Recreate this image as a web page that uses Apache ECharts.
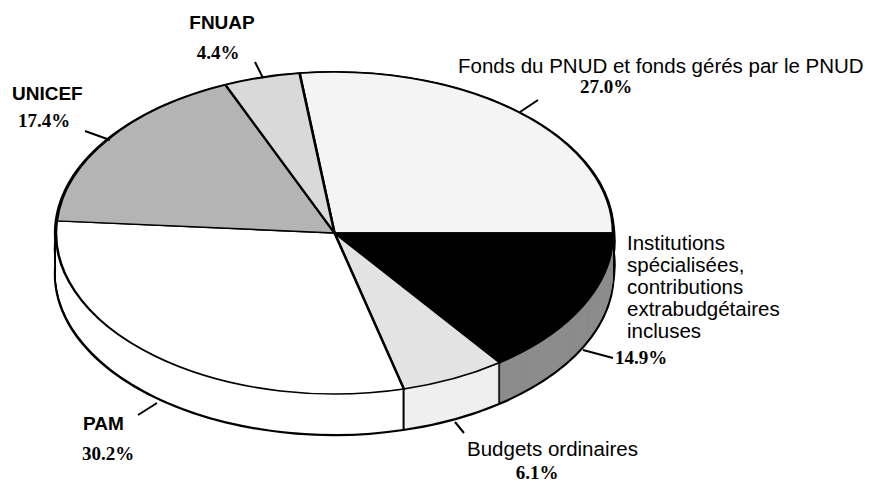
<!DOCTYPE html>
<html>
<head>
<meta charset="utf-8">
<script src="https://cdn.jsdelivr.net/npm/echarts@6/dist/echarts.min.js"></script>
<style>
  html, body { margin: 0; padding: 0; background: #fff; }
  #stage { position: relative; width: 871px; height: 482px; overflow: hidden; }
  /* the pie is drawn round, then squashed into the tilted ellipse */
  #pie { position: absolute; left: 0; top: 0; width: 871px; height: 820px;
         transform: scaleY(0.578); transform-origin: 0 0; }
  #labels { position: absolute; left: 0; top: 0; width: 871px; height: 482px; }
</style>
</head>
<body>
<div id="stage">
  <div id="pie"></div>
  <div id="labels"></div>
</div>
<script>
// data, clockwise from the top-left edge of the UNDP slice
const categories = [
  'Fonds du PNUD et fonds gérés par le PNUD',
  'Institutions\nspécialisées,\ncontributions\nextrabudgétaires\nincluses',
  'Budgets ordinaires',
  'PAM',
  'UNICEF',
  'FNUAP'
];
const shares = [27.0, 14.9, 6.1, 30.2, 17.4, 4.4];
const shareLabels = ['27.0%', '14.9%', '6.1%', '30.2%', '17.4%', '4.4%'];

// styles
const topColors = ['#f4f4f4', '#000000', '#e3e3e3', '#ffffff', '#b4b4b4', '#d9d9d9'];
const sideColors = ['#f4f4f4', '#8c8c8c', '#efefef', '#ffffff', '#b4b4b4', '#d9d9d9'];

// geometry (screen px)
const squash = 0.578;
const cx = 334.5, cy = 233, rad = 278.5, depth = 41;
const startAngle = 97.2;
const sep = 0.12;

const pieChart = echarts.init(document.getElementById('pie'), null, { renderer: 'svg' });

function pieLayer(data, offset, r, extra) {
  return Object.assign({
    type: 'pie',
    silent: true,
    clockwise: true,
    startAngle: startAngle,
    center: [cx, cy / squash + offset / squash],
    radius: r,
    label: { show: false },
    labelLine: { show: false },
    emphasis: { disabled: true },
    data: data
  }, extra || {});
}

const series = [];
let z = 1;
// black backing -> outline of the side wall
[0, 8, 16, 24, 32, depth].forEach(function (off) {
  series.push(pieLayer([{ value: 1, itemStyle: { color: '#000' } }], off, rad + 2, { z: z++ }));
});
// side wall, stacked one px at a time, with thin black seams at slice edges
const sideData = [];
shares.forEach(function (v, i) {
  sideData.push({ value: v - sep, itemStyle: { color: sideColors[i] } });
  sideData.push({ value: sep, itemStyle: { color: '#000' } });
});
for (let off = depth - 1; off >= 1; off--) {
  series.push(pieLayer(sideData, off, rad, { z: z++, startAngle: startAngle - sep / 2 * 3.6 }));
}
// top face
series.push(pieLayer(shares.map(function (v, i) {
  return { name: categories[i], value: v,
           itemStyle: { color: topColors[i], borderColor: '#000', borderWidth: 2.6 } };
}), 0, rad, { z: z++ }));

pieChart.setOption({ animation: false, series: series });

// labels
const labelLayout = [
  { x: 458, y: 65, align: 'left', px: 606, py: 86.5, pAlign: 'center', line: [538, 100, 520, 112] },
  { x: 627, y: 231, align: 'left', px: 615, py: 357, pAlign: 'left', line: [583, 350, 613, 358], multi: true },
  { x: 467, y: 448, align: 'left', px: 537, py: 472, pAlign: 'center', line: [455, 422, 464, 433] },
  { x: 83, y: 423, align: 'left', px: 82, py: 453, pAlign: 'left', line: [157, 403, 138, 415], bold: true },
  { x: 12, y: 93, align: 'left', px: 18, py: 120, pAlign: 'left', line: [85, 131, 110, 140], bold: true },
  { x: 222, y: 22, align: 'center', px: 218, py: 52, pAlign: 'center', line: [255, 62, 263, 78], bold: true }
];

const graphics = [];
categories.forEach(function (name, i) {
  const L = labelLayout[i];
  graphics.push({
    type: 'text', x: L.x, y: L.y,
    style: {
      text: name, fill: '#000',
      font: (L.bold ? 'bold 19px' : '20.5px') + ' "Liberation Sans", Arial, sans-serif',
      align: L.align, verticalAlign: L.multi ? 'top' : 'middle',
      lineHeight: 22
    }
  });
  graphics.push({
    type: 'text', x: L.px, y: L.py,
    style: {
      text: shareLabels[i], fill: '#000',
      font: 'bold 19px "Liberation Serif", "Times New Roman", serif',
      align: L.pAlign, verticalAlign: 'middle'
    }
  });
  graphics.push({
    type: 'line',
    shape: { x1: L.line[0], y1: L.line[1], x2: L.line[2], y2: L.line[3] },
    style: { stroke: '#000', lineWidth: 2 }
  });
});

const labelChart = echarts.init(document.getElementById('labels'), null, { renderer: 'svg' });
labelChart.setOption({ animation: false, graphic: graphics });
</script>
</body>
</html>
